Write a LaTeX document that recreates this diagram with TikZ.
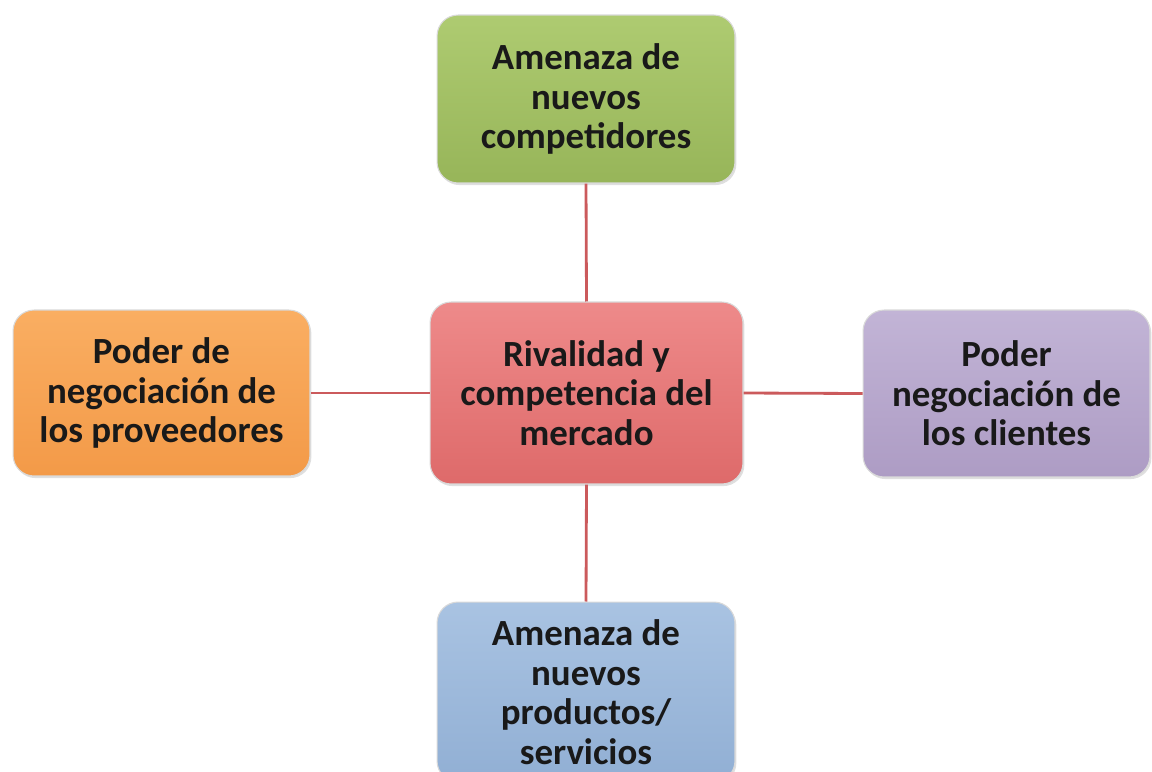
\documentclass[tikz,border=0pt]{standalone}
\usepackage{fontspec}
\setmainfont{Carlito}
\usetikzlibrary{shadows}
\definecolor{lnred}{HTML}{CB5A5C}
\tikzset{
  box/.style={draw=white!85!black, line width=0.6pt, rounded corners=12pt, align=center,
    font=\fontsize{21}{22.5}\selectfont\bfseries, text=black!90,
    drop shadow={shadow xshift=0.8pt, shadow yshift=-1.2pt, opacity=0.25}},
  conn/.style={draw=lnred, line width=1.6pt},
}
\begin{document}
\begin{tikzpicture}[x=0.02cm,y=-0.02cm]
\useasboundingbox (0,0) rectangle (1152,771);
\clip (0,0) rectangle (1152,771);
\definecolor{gtop}{HTML}{AECB71}\definecolor{gbot}{HTML}{97B559}
\definecolor{otop}{HTML}{FAAE62}\definecolor{obot}{HTML}{F39A48}
\definecolor{rtop}{HTML}{EE8A8A}\definecolor{rbot}{HTML}{DE6A6A}
\definecolor{ptop}{HTML}{C2B4D6}\definecolor{pbot}{HTML}{AD9CC4}
\definecolor{btop}{HTML}{A9C3E2}\definecolor{bbot}{HTML}{91AFD4}
\node[box, top color=gtop, bottom color=gbot, minimum width=5.96cm, minimum height=3.36cm] (top) at (586,99) {Amenaza de\\nuevos\\competidores};
\node[box, top color=otop, bottom color=obot, minimum width=5.94cm, minimum height=3.32cm] (left) at (161.5,393) {Poder de\\negociación de\\los proveedores};
\node[box, top color=rtop, bottom color=rbot, minimum width=6.26cm, minimum height=3.64cm] (center) at (586.5,393) {Rivalidad y\\competencia del\\mercado};
\node[box, top color=ptop, bottom color=pbot, minimum width=5.74cm, minimum height=3.34cm] (right) at (1006.5,393.5) {Poder\\negociación de\\los clientes};
\node[box, top color=btop, bottom color=bbot, minimum width=5.96cm, minimum height=3.6cm] (bottom) at (586,692) {Amenaza de\\nuevos\\productos/\\servicios};
\draw[conn] (top.south) -- (center.north);
\draw[conn] (left.east) -- (center.west);
\draw[conn] (center.east) -- (right.west);
\draw[conn] (center.south) -- (bottom.north);
\end{tikzpicture}
\end{document}
